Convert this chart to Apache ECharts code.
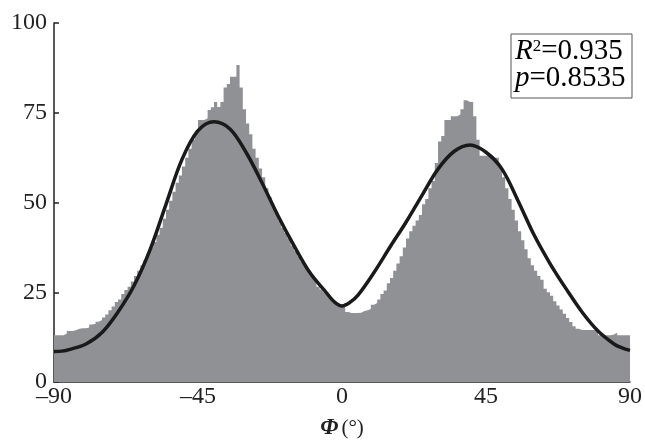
<!DOCTYPE html>
<html>
<head>
<meta charset="utf-8">
<script src="https://cdn.jsdelivr.net/npm/echarts@6/dist/echarts.min.js"></script>
<style>html,body{margin:0;padding:0;background:#fff}#c{width:645px;height:444px}</style>
</head>
<body>
<div id="c"></div>
<script>
// Histogram: 1-degree bins from -90 to 90 (left edges)
var binStart = -90;
var binWidth = 1;
var histValues = [
  13, 13, 13, 13.5, 14.2, 14.2, 14.5, 14.8, 15, 15,
  15.2, 16, 16.2, 16.8, 17.3, 18, 18.8, 20, 21, 22.3,
  23, 24.5, 25.6, 26.5, 28, 29.5, 31, 32.5, 34, 35.8,
  37.5, 39, 41, 43, 45.5, 48, 50.5, 53, 55.5, 57.5,
  60, 62.5, 65, 67.5, 70, 73, 73, 73.5, 75.8, 76.5,
  78, 76.6, 78, 82, 83, 85, 85, 88.3, 82, 76,
  72, 69, 65, 62.5, 59.5, 57, 54, 51.5, 49, 47,
  45, 43, 41.5, 40, 38, 36.5, 35, 33.5, 32.5, 31,
  30, 28.5, 26.5, 25.8, 25, 24.2, 23.5, 22, 21.5, 21,
  21, 19.5, 19.2, 19.2, 19.2, 19.3, 19.8, 20, 20.3, 21.5,
  22, 23, 24.5, 25.5, 27.5, 29, 31, 33, 35, 37.5,
  40, 42, 43.5, 45, 46.5, 49.5, 51, 54, 56, 61,
  67, 68.5, 73, 73, 74, 74, 74.5, 76, 78.5, 78,
  78, 74, 67.5, 63, 63, 63, 63, 62.5, 62.5, 60,
  57, 54, 51, 48, 45, 42, 39.5, 37, 34.5, 32.5,
  31, 29.5, 28.5, 26, 25, 24, 22.5, 21.3, 20.2, 19,
  17.8, 16.7, 15.5, 14.8, 14.5, 14.5, 14.5, 14.5, 14.5, 14.3,
  13, 13, 13, 13, 13.2, 13.7, 13, 13, 13, 13
];
// Fitted curve
var fitX = [-90,-87.5,-85,-80,-75,-70,-65,-60,-55,-50,-45,-40,-35,-30,-25,-20,-15,-10,-5,-2.5,0,2.5,5,10,15,20,25,30,35,40,45,50,55,60,65,70,75,80,85,87.5,90];
var fitY = [8.5,8.6,9.1,10.6,13.8,19.5,26.8,36.8,49.5,62,70,72.5,70.5,64,55.5,46.3,38,30.4,25,22.4,21.2,22.2,24.2,30.5,37.6,44.5,52,59.3,64.2,66,64,59.3,50.5,41,33,26,19.5,14.2,10.6,9.5,8.8];
var xTicks = [-90, -45, 0, 45, 90];
var yTicks = [0, 25, 50, 75, 100];
var r2Text = '0.935';
var pText = '0.8535';

var histData = histValues.map(function (v, i) { return [binStart + i * binWidth, v]; });
histData.push([binStart + histValues.length * binWidth, histValues[histValues.length - 1]]);
var fitData = fitX.map(function (x, i) { return [x, fitY[i]]; });

var serif = '"Liberation Serif","DejaVu Serif",serif';
var chart = echarts.init(document.getElementById('c'), null, {renderer: 'canvas'});
chart.setOption({
  animation: false,
  backgroundColor: '#fff',
  grid: {left: 54, right: 15, top: 23, bottom: 62, containLabel: false, outerBoundsMode: 'none'},
  xAxis: {
    type: 'value', min: -90, max: 90, interval: 45,
    axisLine: {onZero: false, lineStyle: {color: '#222', width: 1.5}},
    axisTick: {show: false},
    splitLine: {show: false},
    axisLabel: {
      color: '#222', fontFamily: serif, fontSize: 24, margin: 3,
      formatter: function (v) { return v < 0 ? '\u2013' + Math.abs(v) : String(v); }
    },
    name: '{a|\u03A6}{b|(\u00B0)}',
    nameLocation: 'middle', nameGap: 35,
    nameTextStyle: {
      rich: {
        a: {fontFamily: serif, fontSize: 23, fontWeight: 'bold', fontStyle: 'italic', color: '#222'},
        b: {fontFamily: serif, fontSize: 21, color: '#222', padding: [0, 0, 0, 3]}
      }
    }
  },
  yAxis: {
    type: 'value', min: 0, max: 100, interval: 25,
    axisLine: {show: true, onZero: false, lineStyle: {color: '#222', width: 1.5}},
    axisTick: {show: true, inside: true, length: 5, lineStyle: {color: '#222', width: 1.5}},
    splitLine: {show: false},
    axisLabel: {color: '#222', fontFamily: serif, fontSize: 24, margin: 7}
  },
  series: [
    {
      type: 'line', data: histData, step: 'end', symbol: 'none',
      lineStyle: {width: 0, opacity: 0},
      areaStyle: {color: '#8f9194', opacity: 1},
      z: 1
    },
    {
      type: 'line', data: fitData, smooth: 0.35, symbol: 'none',
      lineStyle: {color: '#1a1a1a', width: 3.5},
      z: 3
    }
  ],
  graphic: [
    {
      type: 'rect', shape: {x: 511, y: 34, width: 121, height: 64},
      style: {fill: '#fff', stroke: '#555', lineWidth: 1}, z: 10
    },
    {
      type: 'text', x: 515, y: 38, z: 11,
      style: {
        text: '{i|R}{s|2}{n|=' + r2Text + '}\n{i|p}{n|=' + pText + '}',
        rich: {
          i: {fontFamily: serif, fontSize: 29, fontStyle: 'italic', color: '#222', lineHeight: 27},
          s: {fontFamily: serif, fontSize: 17, color: '#222', verticalAlign: 'top', lineHeight: 27, padding: [0, 0, 10, 0]},
          n: {fontFamily: serif, fontSize: 29, color: '#222', lineHeight: 27}
        }
      }
    }
  ]
});
</script>
</body>
</html>
